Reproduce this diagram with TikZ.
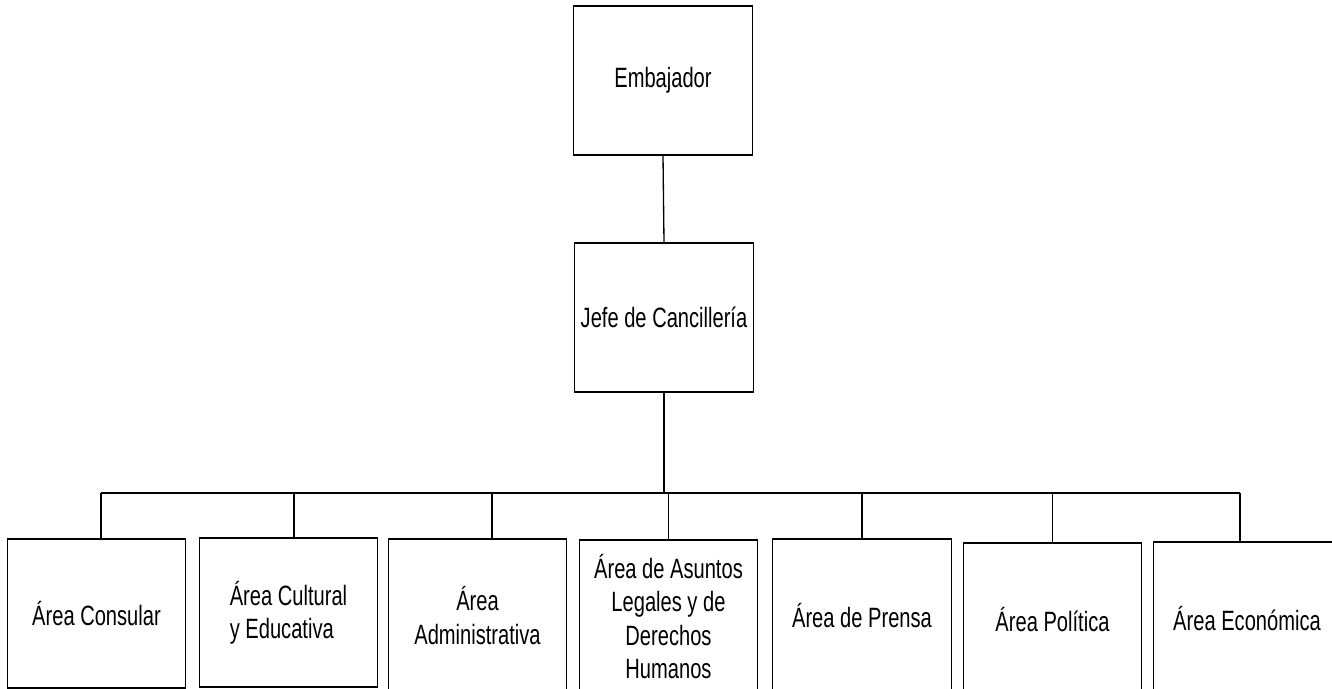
\documentclass[tikz,border=0pt]{standalone}
\usepackage{fontspec}
\setmainfont{Liberation Sans}[FakeStretch=0.72]
\usetikzlibrary{positioning}

\begin{document}
\begin{tikzpicture}[x=0.02cm, y=-0.02cm,
    unitbox/.style={draw, line width=0.75pt, inner sep=0pt, align=center,
      minimum width=3.57cm, minimum height=2.98cm,
      font=\fontsize{15.9}{19}\selectfont},
    lowbox/.style={unitbox, minimum height=3.06cm},
    link/.style={line width=0.75pt}]
      \useasboundingbox (0,0) rectangle (1332,689);
      \clip (0,0) rectangle (1332,689);

      % Top of the chart
      \node[unitbox] (emb) at (663,80.5) {Embajador};
      \node[unitbox] (jefe) at (664,317.5) {Jefe de Cancillería};

      % Areas (bottom row)
      \node[unitbox] (consular) at (96.5,613.5) {Área Consular};
      \node[unitbox, align=left] (cultural) at (288.5,612.5) {Área Cultural\\y Educativa};
      \node[lowbox] (admin) at (477.5,615.5) {Área\\Administrativa};
      \node[lowbox] (legales) at (668.5,616.5) {Área de Asuntos\\Legales y de\\Derechos\\Humanos};
      \node[lowbox] (prensa) at (862,615.5) {Área de Prensa};
      \node[lowbox] (politica) at (1052.5,619.5) {Área Política};
      \node[lowbox, minimum width=3.74cm] (economica) at (1247,618.5) {Área Económica};

      % Bus line
      \coordinate (busL) at (101,493);
      \coordinate (busR) at (1240,493);

      % Connectors
      \draw[link] (emb.south) -- (jefe.north);
      \draw[link] (jefe.south) -- (jefe.south |- busL);
      \draw[link] (busL) -- (busR);
      \draw[link] (busL) -- (busL |- consular.north);
      \draw[link] (busR) -- (busR |- economica.north);
      \foreach \n/\dx in {cultural/5.5, admin/14.5, legales/0, prensa/0, politica/0}
        \draw[link] ([xshift=\dx*0.02cm]\n.north) -- ([xshift=\dx*0.02cm]\n.north |- busL);
    \end{tikzpicture}
\end{document}
